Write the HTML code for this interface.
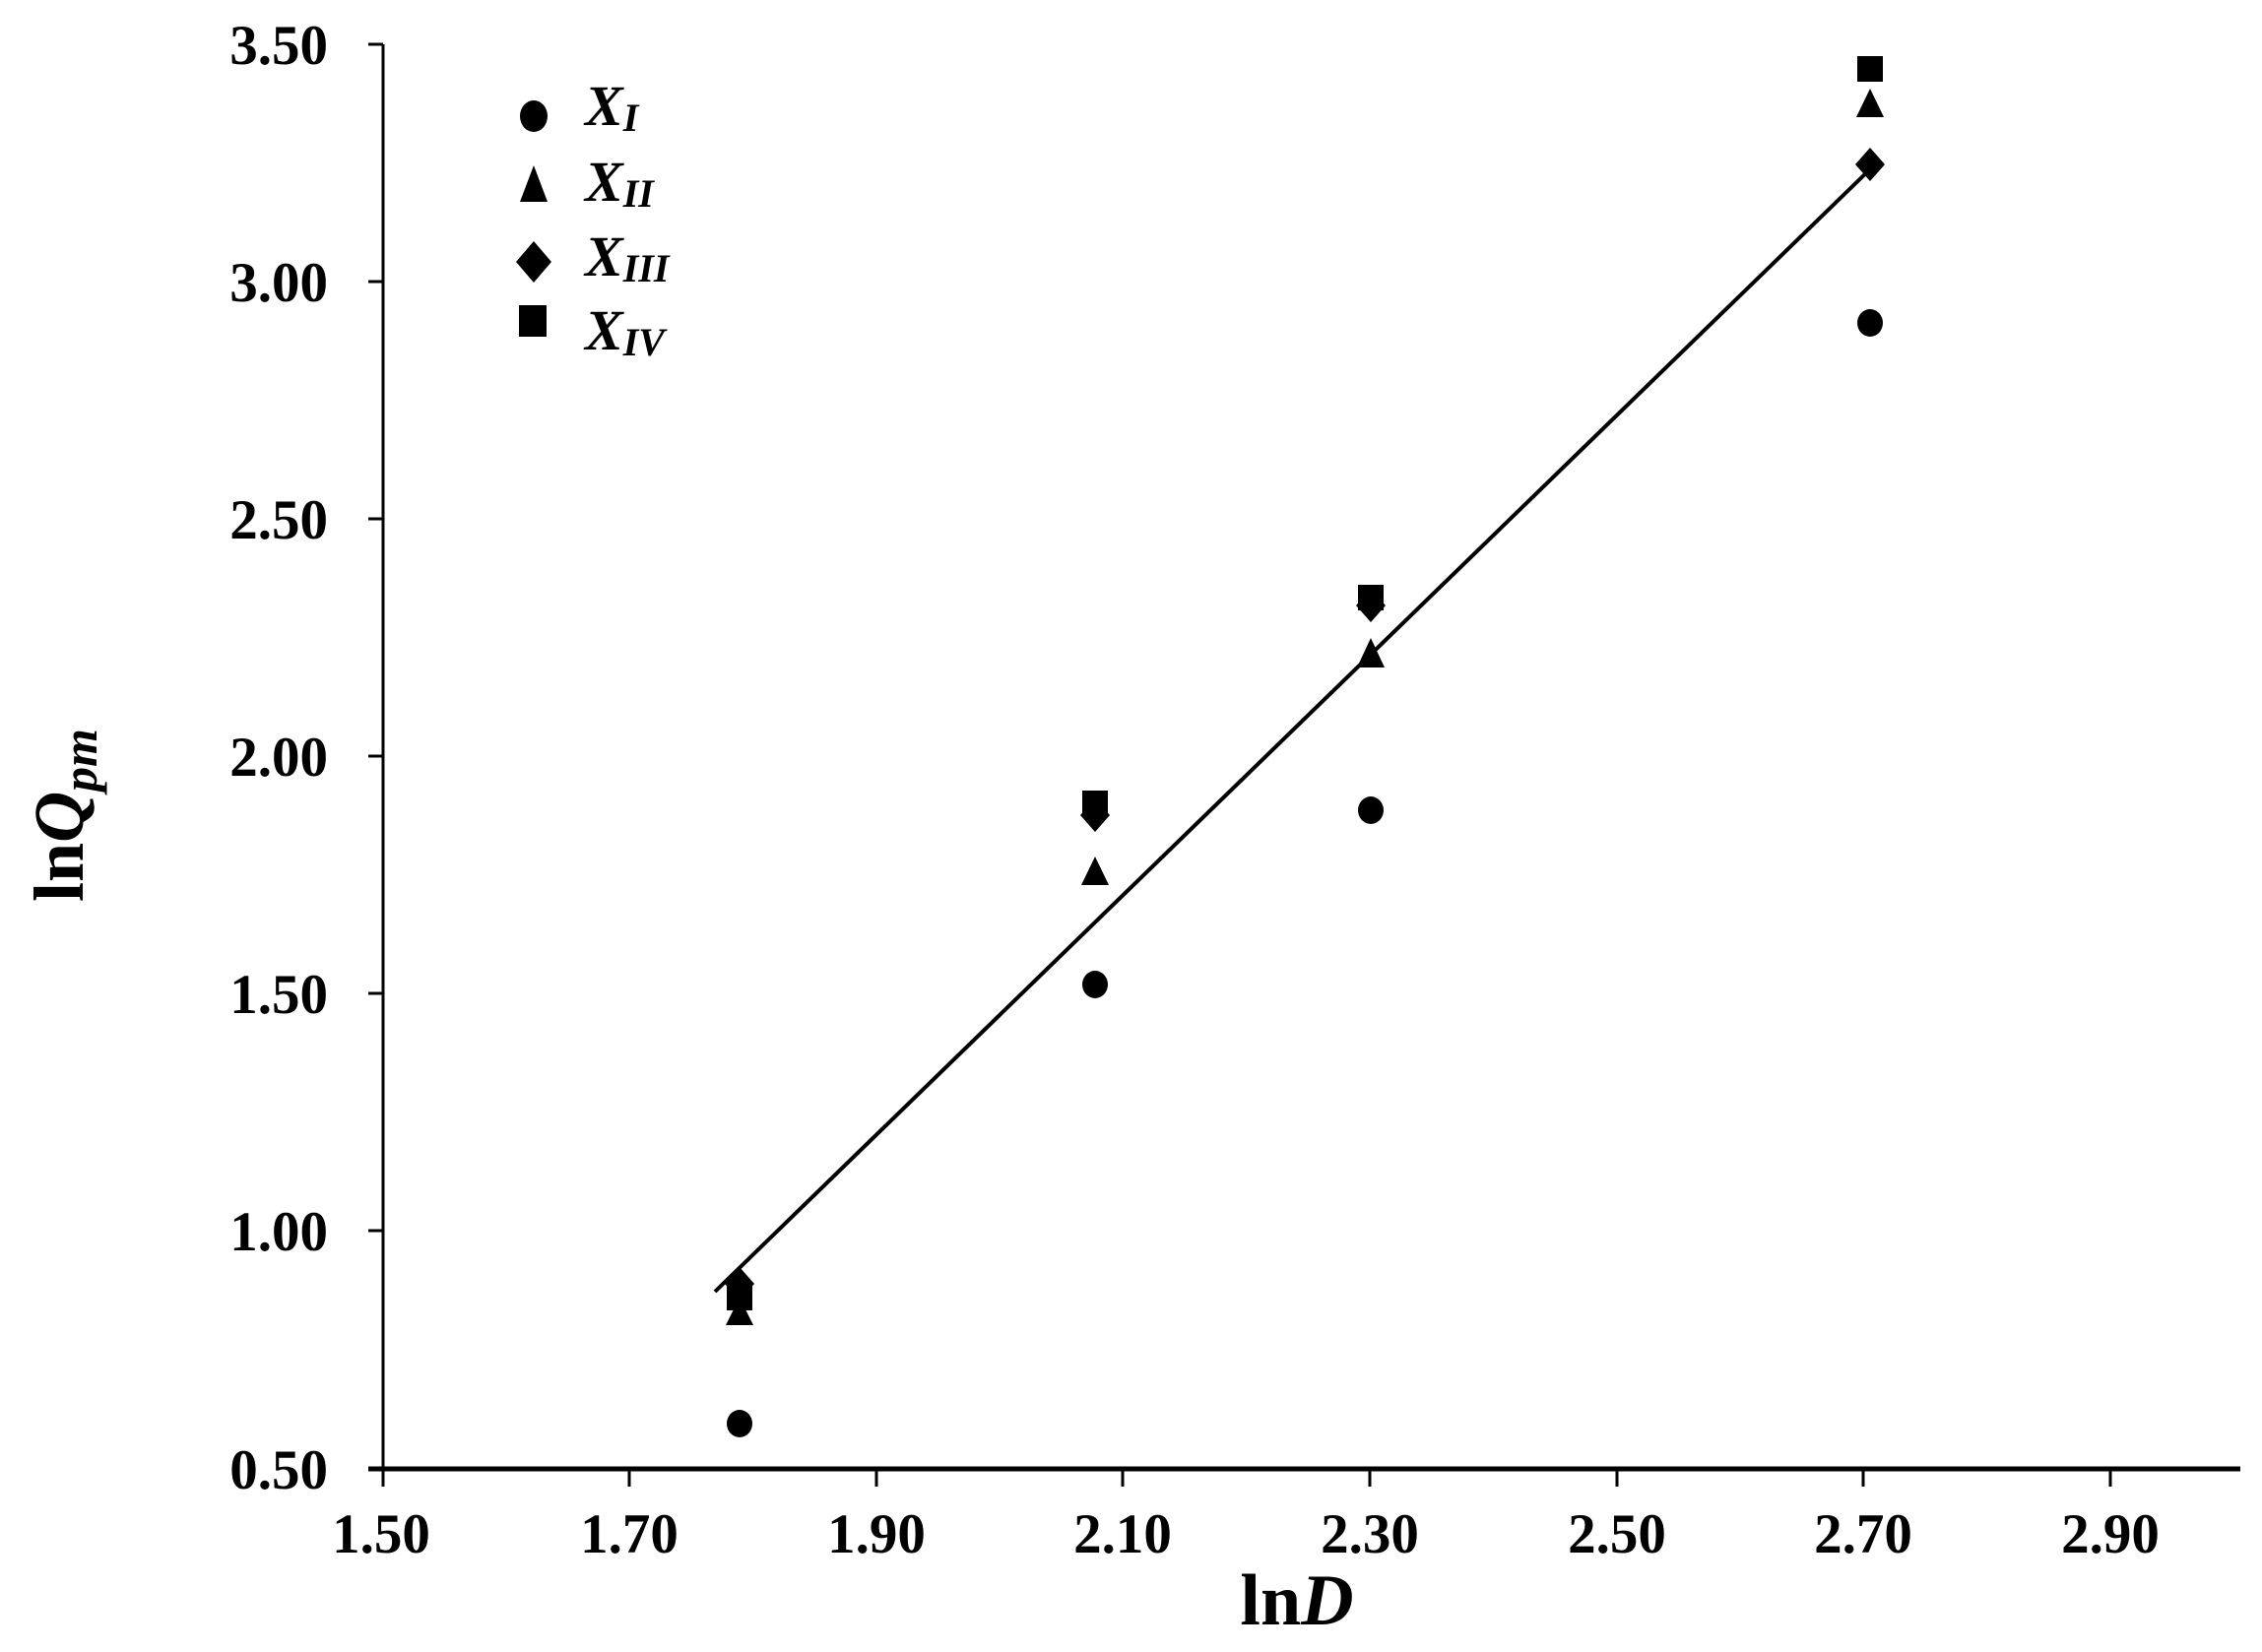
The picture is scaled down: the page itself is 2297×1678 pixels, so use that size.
<!DOCTYPE html>
<html><head><meta charset="utf-8"><style>
html,body{margin:0;padding:0;background:#fff;}
svg{display:block;}
text{font-family:"Liberation Serif",serif;font-weight:bold;fill:#000;}
</style></head><body>
<svg width="2297" height="1678" viewBox="0 0 2297 1678" xmlns="http://www.w3.org/2000/svg">
<line x1="389" y1="45" x2="389" y2="1492" stroke="#000" stroke-width="3"/>
<line x1="374" y1="1492" x2="2275" y2="1492" stroke="#000" stroke-width="5"/>
<g stroke="#000" stroke-width="3">
<line x1="374" y1="45" x2="389" y2="45"/>
<line x1="374" y1="286" x2="389" y2="286"/>
<line x1="374" y1="527" x2="389" y2="527"/>
<line x1="374" y1="768" x2="389" y2="768"/>
<line x1="374" y1="1009" x2="389" y2="1009"/>
<line x1="374" y1="1250" x2="389" y2="1250"/>
<line x1="389" y1="1492" x2="389" y2="1510"/>
<line x1="639" y1="1492" x2="639" y2="1510"/>
<line x1="890" y1="1492" x2="890" y2="1510"/>
<line x1="1140" y1="1492" x2="1140" y2="1510"/>
<line x1="1391" y1="1492" x2="1391" y2="1510"/>
<line x1="1642" y1="1492" x2="1642" y2="1510"/>
<line x1="1892" y1="1492" x2="1892" y2="1510"/>
<line x1="2143" y1="1492" x2="2143" y2="1510"/>
</g>
<g font-size="57" text-anchor="end">
<text x="333" y="65">3.50</text>
<text x="333" y="306">3.00</text>
<text x="333" y="547">2.50</text>
<text x="333" y="788">2.00</text>
<text x="333" y="1029">1.50</text>
<text x="333" y="1270">1.00</text>
<text x="333" y="1512">0.50</text>
</g>
<g font-size="57" text-anchor="middle">
<text x="387" y="1577">1.50</text>
<text x="639" y="1577">1.70</text>
<text x="890" y="1577">1.90</text>
<text x="1140" y="1577">2.10</text>
<text x="1391" y="1577">2.30</text>
<text x="1642" y="1577">2.50</text>
<text x="1892" y="1577">2.70</text>
<text x="2143" y="1577">2.90</text>
</g>
<text x="1317" y="1650" font-size="74" text-anchor="middle">ln<tspan font-style="italic">D</tspan></text>
<text transform="translate(84,828) rotate(-90)" font-size="72" text-anchor="middle">ln<tspan font-style="italic">Q</tspan><tspan font-style="italic" font-size="50" dy="14">pm</tspan></text>
<line x1="726" y1="1312" x2="1903" y2="168" stroke="#000" stroke-width="4"/>
<g fill="#000">
<ellipse cx="751" cy="1446" rx="13" ry="14"/>
<ellipse cx="1112" cy="1000" rx="13" ry="14"/>
<ellipse cx="1392" cy="823" rx="13" ry="14"/>
<ellipse cx="1899" cy="328" rx="13" ry="14"/>
<polygon points="751,1318 737,1346 765,1346"/>
<polygon points="1112,870 1098,899 1126,899"/>
<polygon points="1392,648 1378,678 1406,678"/>
<polygon points="1899,90 1885,119 1913,119"/>
<polygon points="751,1287 766,1304 751,1321 736,1304"/>
<polygon points="1112,811 1127,828 1112,845 1097,828"/>
<polygon points="1392,598 1407,615 1392,632 1377,615"/>
<polygon points="1899,150 1914,167 1899,184 1884,167"/>
<rect x="738" y="1305" width="26" height="26"/>
<rect x="1099" y="803" width="26" height="26"/>
<rect x="1379" y="594" width="26" height="26"/>
<rect x="1886" y="57" width="26" height="26"/>
<ellipse cx="542" cy="118" rx="14" ry="16"/>
<polygon points="542,168 528,205 556,205"/>
<polygon points="542,245 560,266 542,287 524,266"/>
<rect x="527" y="310" width="28" height="32"/>
</g>
<g font-size="58" font-style="italic">
<text x="594" y="127">X<tspan font-size="40" dy="6">I</tspan></text>
<text x="594" y="204">X<tspan font-size="40" dy="6">II</tspan></text>
<text x="594" y="280">X<tspan font-size="40" dy="6">III</tspan></text>
<text x="594" y="355">X<tspan font-size="40" dy="6">IV</tspan></text>
</g>
</svg>
</body></html>
